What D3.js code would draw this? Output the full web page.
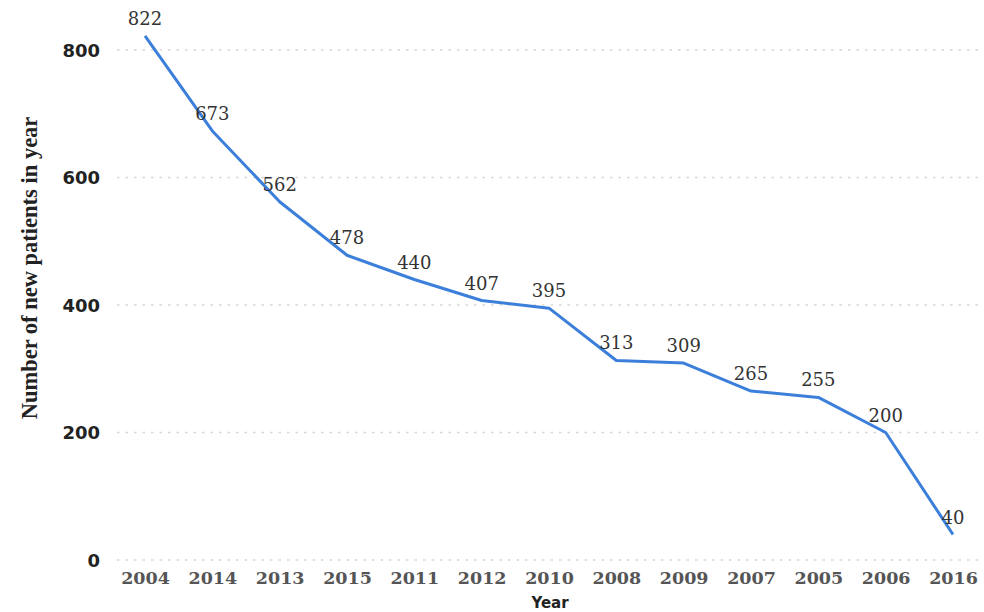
<!DOCTYPE html>
<html>
<head>
<meta charset="utf-8">
<script src="https://cdn.jsdelivr.net/npm/d3@7"></script>
<style>
  body { margin: 0; background: #fff; }
</style>
</head>
<body>
<svg id="chart"></svg>
<script>
// data
const years = ['2004', '2014', '2013', '2015', '2011', '2012', '2010', '2008', '2009', '2007', '2005', '2006', '2016'];
const patients = [822, 673, 562, 478, 440, 407, 395, 313, 309, 265, 255, 200, 40];
const yTicks = [0, 200, 400, 600, 800];

const width = 984;
const height = 612;
const margin = { top: 50, right: 31, bottom: 52, left: 117 };

const svg = d3.select('#chart')
  .attr('width', width)
  .attr('height', height);

const x = d3.scalePoint()
  .domain(years)
  .range([145, width - margin.right])
  .padding(0);

const y = d3.scaleLinear()
  .domain([0, 800])
  .range([height - margin.bottom, margin.top]);

// dotted gridlines
svg.append('g')
  .selectAll('line')
  .data(yTicks)
  .enter().append('line')
  .attr('x1', margin.left)
  .attr('x2', width)
  .attr('y1', d => y(d))
  .attr('y2', d => y(d))
  .style('stroke', '#d6d6d6')
  .style('stroke-width', 1.3)
  .style('stroke-dasharray', '2.5,6');

// y axis labels
const yAxis = svg.append('g')
  .attr('transform', `translate(${margin.left - 17},0)`)
  .call(d3.axisLeft(y).tickValues(yTicks).tickSize(0).tickPadding(0));
yAxis.select('.domain').remove();
yAxis.selectAll('text')
  .attr('dy', '0.36em')
  .style('font-family', 'DejaVu Sans')
  .style('font-weight', 'bold')
  .style('font-size', '18px')
  .style('fill', '#222');

// x axis labels
const xAxis = svg.append('g')
  .attr('transform', `translate(0,${height - margin.bottom})`)
  .call(d3.axisBottom(x).tickSize(0).tickPadding(12));
xAxis.select('.domain').remove();
xAxis.selectAll('text')
  .style('font-family', 'DejaVu Serif')
  .style('font-weight', 'bold')
  .style('font-size', '17.5px')
  .style('fill', '#555');

// axis titles
svg.append('text')
  .attr('x', 550)
  .attr('y', 608)
  .attr('text-anchor', 'middle')
  .style('font-family', 'DejaVu Sans')
  .style('font-weight', 'bold')
  .style('font-size', '15px')
  .style('fill', '#222')
  .text('Year');

svg.append('text')
  .attr('transform', 'translate(37,268) rotate(-90)')
  .attr('text-anchor', 'middle')
  .style('font-family', 'Liberation Serif')
  .style('font-weight', 'bold')
  .style('font-size', '22.5px')
  .style('fill', '#222')
  .text('Number of new patients in year');

// the line
const line = d3.line()
  .x((d, i) => x(years[i]))
  .y(d => y(d));

svg.append('path')
  .datum(patients)
  .attr('d', line)
  .style('fill', 'none')
  .style('stroke', '#3b7fdb')
  .style('stroke-width', 3)
  .style('stroke-linejoin', 'round');

// value labels
svg.append('g')
  .selectAll('text')
  .data(patients)
  .enter().append('text')
  .attr('x', (d, i) => x(years[i]))
  .attr('y', d => y(d) - 11)
  .attr('text-anchor', 'middle')
  .style('font-family', 'DejaVu Serif')
  .style('font-size', '18px')
  .style('fill', '#333')
  .text(d => d);
</script>
</body>
</html>
